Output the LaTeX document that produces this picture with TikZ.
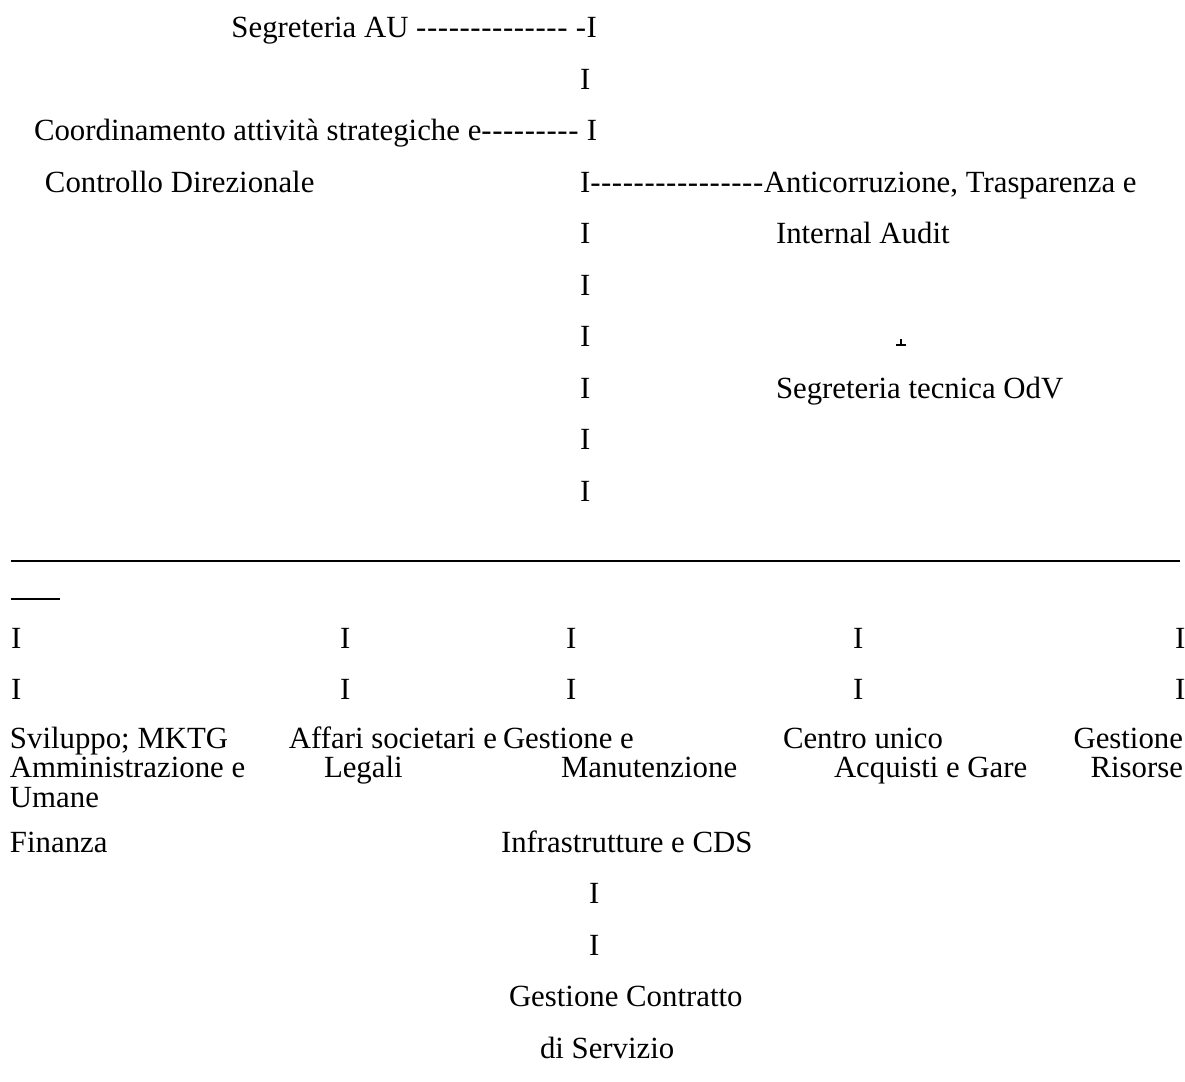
\documentclass[tikz,border=0pt]{standalone}
\usepackage{fontspec}
\setmainfont{Liberation Serif}
\newcommand\dsh[1]{\foreach\k in {1,...,#1}{-\kern0.3pt}}
\newcommand\fs{\fontsize{15.4pt}{18pt}\selectfont}
\begin{document}
\begin{tikzpicture}[x=0.5pt,y=-0.5pt,
  txt/.style={inner sep=0pt, outer sep=0pt, anchor=base west, font=\fs},
  rtxt/.style={inner sep=0pt, outer sep=0pt, anchor=base east, font=\fs},
  rule/.style={line width=1pt, draw=black}]
\useasboundingbox (0,0) rectangle (1185,1082);
% top block
\node[rtxt] (segau) at (597,37.5) {Segreteria AU \dsh{14} \dsh{1}I};
\node[txt] (i2) at (580,89) {I};
\node[rtxt] (coord) at (597,140.5) {Coordinamento attività strategiche e\dsh{9} I};
\node[txt] (ctrl) at (45,192) {Controllo Direzionale};
\node[txt] (anti) at (580,192) {I\dsh{16}Anticorruzione, Trasparenza e};
\node[txt] (i5) at (580,243.5) {I};
\node[txt] (audit) at (776,243.5) {Internal Audit};
\node[txt] (i6) at (580,295) {I};
\node[txt] (i7) at (580,346.5) {I};
\node[txt] (i8) at (580,398) {I};
\node[txt] (odv) at (776,398) {Segreteria tecnica OdV};
\node[txt] (i9) at (580,449.5) {I};
\node[txt] (i10) at (580,501) {I};
% tiny cut-off mark
\fill (895.5,343.5) rectangle (906,345.5);
\fill (899.5,339) rectangle (902,344);
% rules
\coordinate (la) at (11,561);
\coordinate (lb) at (1180,561);
\coordinate (sa) at (11,599);
\coordinate (sb) at (60,599);
\draw[rule] (la) -- (lb);
\draw[rule] (sa) -- (sb);
% bottom I rows
\foreach \n/\x in {a/11,b/340,c/566,d/853,e/1175}{
  \node[txt] (bi1\n) at (\x,648) {I};
  \node[txt] (bi2\n) at (\x,699.5) {I};
}
% departments
\node[txt] (svil) at (10,748) {Sviluppo; MKTG};
\node[txt] (amm) at (10,777) {Amministrazione e};
\node[txt] (uma) at (10,807) {Umane};
\node[txt] (fin) at (10,852) {Finanza};
\node[rtxt] (aff) at (497,748) {Affari societari e};
\node[txt] (leg) at (324,777) {Legali};
\node[txt] (gest) at (503,748) {Gestione e};
\node[txt] (man) at (561,777) {Manutenzione};
\node[txt] (infra) at (501,852) {Infrastrutture e CDS};
\node[txt] (cuc) at (783,748) {Centro unico};
\node[txt] (acq) at (834,777) {Acquisti e Gare};
\node[rtxt] (gr) at (1183,748) {Gestione};
\node[rtxt] (ris) at (1183,777) {Risorse};
\node[txt] (i11) at (589,903.5) {I};
\node[txt] (i12) at (589,955) {I};
\node[txt] (gcs) at (509,1006.5) {Gestione Contratto};
\node[txt] (dis) at (540,1058) {di Servizio};
\end{tikzpicture}
\end{document}
